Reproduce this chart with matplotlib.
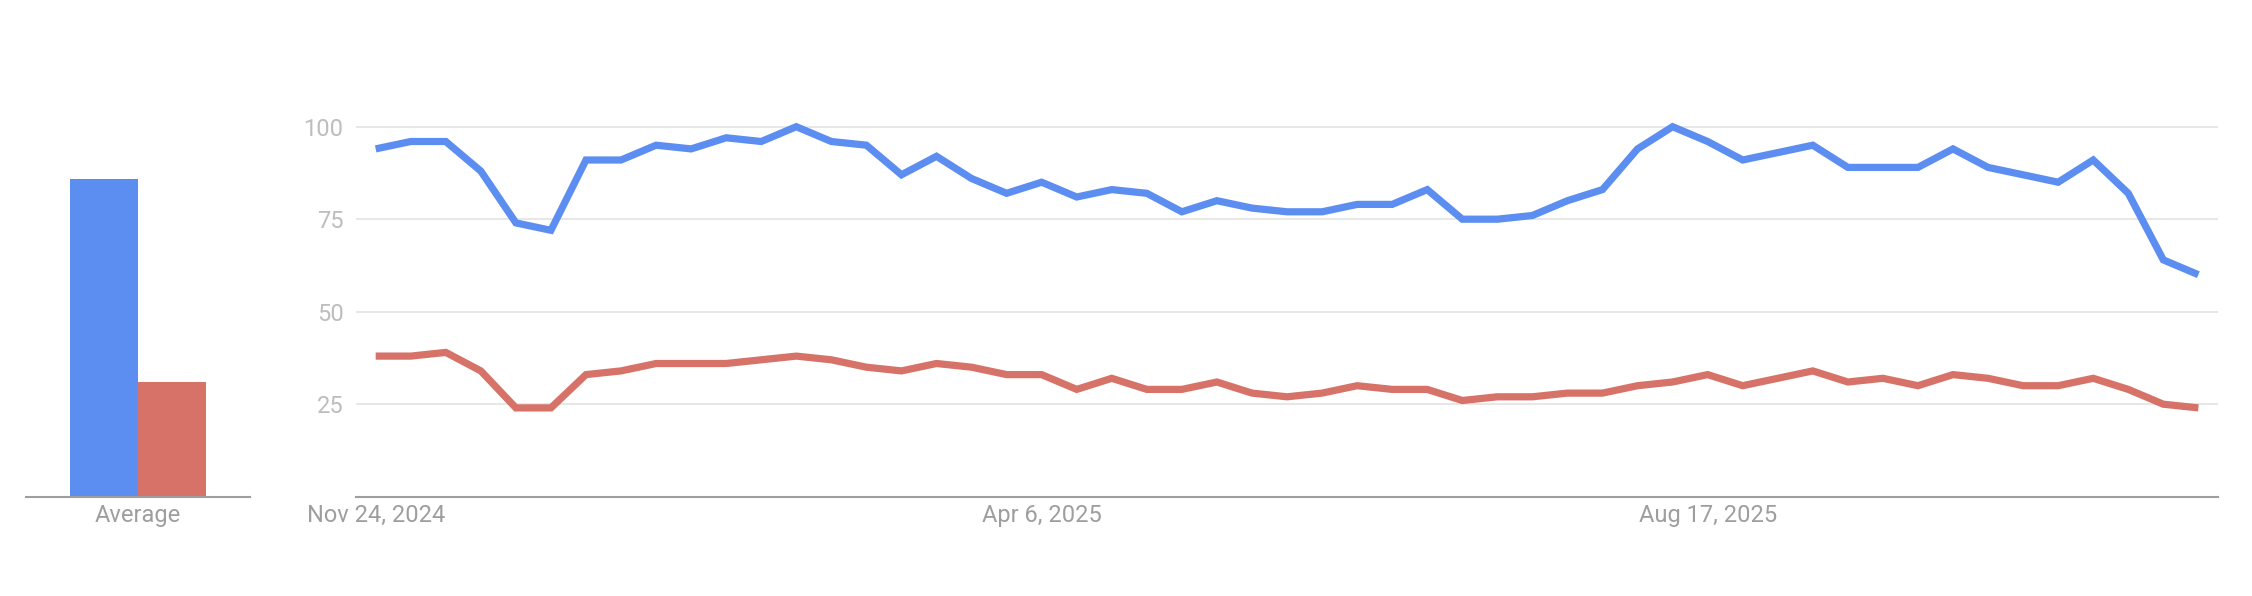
import numpy as np
import pandas as pd
import matplotlib
matplotlib.use('Agg')
import matplotlib.pyplot as plt

plt.rcParams['font.family'] = ['Roboto', 'DejaVu Sans']

# Weekly interest values (first week: Nov 24, 2024)
start_week = '2024-11-24'
blue_values = [94, 96, 96, 88, 74, 72, 91, 91, 95, 94, 97, 96,
               100, 96, 95, 87, 92, 86, 82, 85, 81, 83, 82, 77, 80, 78,
               77, 77, 79, 79, 83, 75, 75, 76, 80, 83, 94, 100, 96,
               91, 93, 95, 89, 89, 89, 94, 89, 87, 85, 91, 82, 64, 60]
red_values = [38, 38, 39, 34, 24, 24, 33, 34, 36, 36, 36, 37,
              38, 37, 35, 34, 36, 35, 33, 33, 29, 32, 29, 29, 31, 28,
              27, 28, 30, 29, 29, 26, 27, 27, 28, 28, 30, 31, 33,
              30, 32, 34, 31, 32, 30, 33, 32, 30, 30, 32, 29, 25, 24]

# Averages shown in the small bar panel
average_values = [86, 31]
bar_label = 'Average'

tick_dates = ['2024-11-24', '2025-04-06', '2025-08-17']
tick_labels = ['Nov 24, 2024', 'Apr 6, 2025', 'Aug 17, 2025']
y_ticks = [25, 50, 75, 100]

BLUE = '#5c8df0'
RED = '#d67268'
GRID = '#e0e0e0'
AXIS = '#9e9e9e'
YTEXT = '#bdbdbd'
XTEXT = '#9e9e9e'
FS = 17

W, H = 2252, 596
fig = plt.figure(figsize=(W / 100, H / 100), dpi=100)

# shared vertical geometry (pixels from top): baseline 496.7, 3.7 px per unit
y_bottom = (H - 496.7) / H
y_height = 110 * 3.7 / H

# --- average bars ---
ax_bar = fig.add_axes([26 / W, y_bottom, 224 / W, y_height])
ax_bar.bar([-0.5, 0.5], average_values, width=1.0, color=[BLUE, RED])
ax_bar.set_xlim(-1.65, 1.65)
ax_bar.set_ylim(0, 110)
ax_bar.set_xticks([0])
ax_bar.set_xticklabels([bar_label], fontsize=FS, color=XTEXT)
ax_bar.set_yticks([])
ax_bar.tick_params(axis='x', length=0, pad=5.5)
for side in ['top', 'left', 'right']:
    ax_bar.spines[side].set_visible(False)
ax_bar.spines['bottom'].set_color(AXIS)
ax_bar.spines['bottom'].set_linewidth(1.5)

# --- weekly lines ---
dates = pd.date_range(start_week, periods=len(blue_values), freq='7D')
ax = fig.add_axes([356 / W, y_bottom, (2217.7 - 356) / W, y_height])
for vals, col in [(red_values, RED), (blue_values, BLUE)]:
    ax.plot(dates, vals, color=col, linewidth=5.2,
            solid_joinstyle='miter', solid_capstyle='butt', zorder=3)

ax.set_xlim(dates[0] - pd.Timedelta(days=3.93), dates[-1] + pd.Timedelta(days=3.86))
ax.set_ylim(0, 110)
ax.set_yticks(y_ticks)
ax.set_yticklabels([str(t) for t in y_ticks], fontsize=FS, color=YTEXT)
ax.set_xticks(pd.to_datetime(tick_dates))
ax.set_xticklabels(tick_labels, fontsize=FS, color=XTEXT)
ax.tick_params(axis='y', length=0, pad=9)
ax.tick_params(axis='x', length=0, pad=5.5)
ax.grid(axis='y', color=GRID, linewidth=1.1)
ax.set_axisbelow(True)
for side in ['top', 'left', 'right']:
    ax.spines[side].set_visible(False)
ax.spines['bottom'].set_color(AXIS)
ax.spines['bottom'].set_linewidth(1.5)

fig.savefig('out.png', dpi=100)
